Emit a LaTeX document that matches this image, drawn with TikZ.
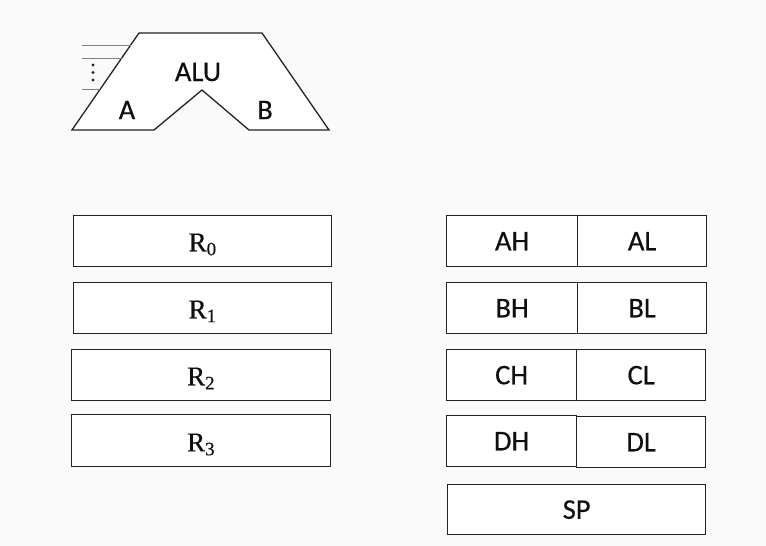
\documentclass[tikz,border=0pt]{standalone}
\usepackage{fontspec}
\setmainfont{Carlito}[FakeBold=0.4]
\newfontfamily\lblfont{Carlito}[FakeBold=0.4]
\newfontfamily\regserif{Liberation Serif}[FakeBold=0.4]
\definecolor{bgc}{RGB}{250,250,250}
\definecolor{lnc}{RGB}{35,35,35}
\definecolor{txc}{RGB}{15,15,15}
\begin{document}
\begin{tikzpicture}[x=1pt,y=-1pt,
  ln/.style={draw=lnc,line width=1.3pt},
  reg/.style={ln,fill=white,rectangle,inner sep=0pt,anchor=north west},
  lbl/.style={font=\lblfont\fontsize{28.5}{32}\selectfont,inner sep=0pt,text=txc},
  rlbl/.style={font=\regserif\fontsize{27}{30}\selectfont,inner sep=0pt,text=txc,anchor=base}]
\fill[bgc] (0,0) rectangle (766,546);
\useasboundingbox (0,0) rectangle (766,546);
% ALU
\coordinate (tl) at (139,33);
\coordinate (tr) at (262,33);
\coordinate (br) at (329,130);
\coordinate (n3) at (249,130);
\coordinate (n2) at (202,90);
\coordinate (n1) at (154,130);
\coordinate (bl) at (72,130);
\fill[white] (tl) -- (tr) -- (br) -- (n3) -- (n2) -- (n1) -- (bl) -- cycle;
\draw[ln,line join=miter] (tl) -- (tr) -- (br) -- (n3) -- (n2) -- (n1) -- (bl) -- cycle;
\coordinate (i1a) at (82,45);  \coordinate (i1b) at (130.7,45);
\coordinate (i2a) at (82,58);  \coordinate (i2b) at (121.7,58);
\coordinate (i3a) at (82,89);  \coordinate (i3b) at (100.3,89);
\draw[ln,line width=1pt,draw=gray] (i1a) -- (i1b);
\draw[ln,line width=1pt,draw=gray] (i2a) -- (i2b);
\draw[ln,line width=1pt,draw=gray] (i3a) -- (i3b);
\foreach \yy [count=\k] in {65,72.5,80} \fill[black!85] (93,\yy) circle (1.6) coordinate (dot\k);
\node[lbl] (alu) at (198,72) {ALU};
\node[lbl] (aa) at (127,110) {A};
\node[lbl] (bb) at (265,110) {B};
% left registers
\node[reg,minimum width=258,minimum height=51] (r0) at (73,215) {};
\node[reg,minimum width=258,minimum height=51] (r1) at (73,282) {};
\node[reg,minimum width=259,minimum height=51] (r2) at (71,349) {};
\node[reg,minimum width=259,minimum height=52] (r3) at (71,414) {};
\node[rlbl] (r0t) at ([yshift=16pt]r0.south) {R\textsubscript{0}};
\node[rlbl] (r1t) at ([yshift=16pt]r1.south) {R\textsubscript{1}};
\node[rlbl] (r2t) at ([yshift=16pt]r2.south) {R\textsubscript{2}};
\node[rlbl] (r3t) at ([yshift=16pt]r3.south) {R\textsubscript{3}};
% right registers
\node[reg,minimum width=131,minimum height=51] (ah) at (446,215) {};
\node[reg,minimum width=129,minimum height=51] (al) at (577,215) {};
\node[reg,minimum width=131,minimum height=51] (bh) at (446,282) {};
\node[reg,minimum width=129,minimum height=51] (bl2) at (577,282) {};
\node[reg,minimum width=130,minimum height=51] (ch) at (446,349) {};
\node[reg,minimum width=129,minimum height=51] (cl) at (576,349) {};
\node[reg,minimum width=130,minimum height=51] (dh) at (446,415) {};
\node[reg,minimum width=129,minimum height=51] (dl) at (576,416) {};
\node[reg,minimum width=258,minimum height=50] (sp) at (447,484) {};
\node[lbl] (aht) at (ah.center) {AH};
\node[lbl] (alt) at (al.center) {AL};
\node[lbl] (bht) at (bh.center) {BH};
\node[lbl] (blt) at (bl2.center) {BL};
\node[lbl] (cht) at (ch.center) {CH};
\node[lbl] (clt) at (cl.center) {CL};
\node[lbl] (dht) at (dh.center) {DH};
\node[lbl] (dlt) at (dl.center) {DL};
\node[lbl] (spt) at (sp.center) {SP};
\end{tikzpicture}
\end{document}
